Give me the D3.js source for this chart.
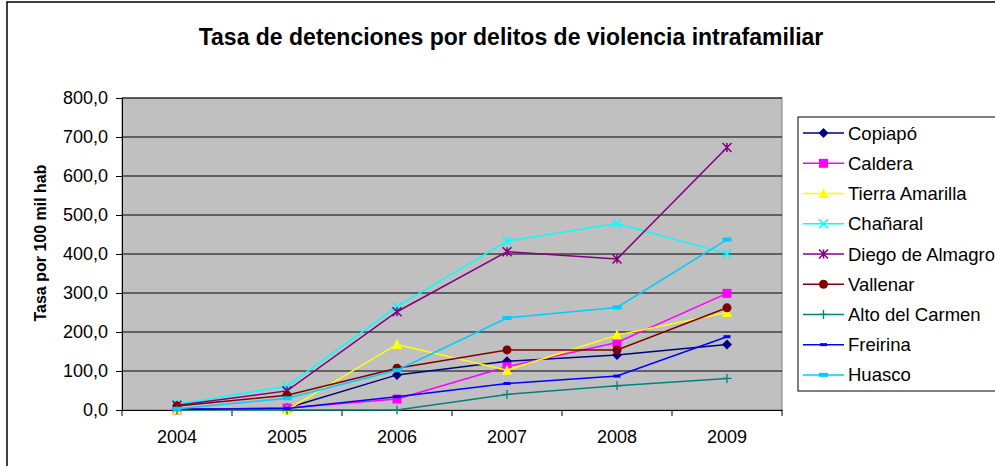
<!DOCTYPE html>
<html><head><meta charset="utf-8">
<script src="https://cdn.jsdelivr.net/npm/d3@7"></script>
<style>body{margin:0;background:#fff;}svg{display:block;font-family:Arial,"Liberation Sans",sans-serif;}</style>
</head><body><svg id="c" width="995" height="466"></svg>
<script>
const years = ["2004","2005","2006","2007","2008","2009"];
const yTicks = [0,100,200,300,400,500,600,700,800];
const names = ["Copiapó","Caldera","Tierra Amarilla","Chañaral","Diego de Almagro","Vallenar","Alto del Carmen","Freirina","Huasco"];
const copiapo  = [2,5,90,125,141,168];
const caldera  = [0,5,28,111,173,299];
const tierra   = [0,0,168,102,192,250];
const chanaral = [15,61,265,433,478,401];
const diego    = [12,49,252,406,387,673];
const vallenar = [10,38,107,154,154,262];
const alto     = [0,0,0,40,62,81];
const freirina = [1,4,34,68,87,188];
const huasco   = [3,30,102,236,263,437];
const colors = ["#000080","#FF00FF","#FFFF00","#00FFFF","#800080","#800000","#008080","#0000FF","#00CCFF"];
const markers = ["diamond","square","triangle","x","star","circle","plus","dash","dash2"];
const series = [copiapo,caldera,tierra,chanaral,diego,vallenar,alto,freirina,huasco];

const svg = d3.select("#c");
const L=122,R=782,T=98,B=410;
const x = d3.scaleBand().domain(years).range([L,R]).padding(0);
const y = d3.scaleLinear().domain([0,800]).range([B,T]);
const cx = d => x(d)+x.bandwidth()/2;

// outer frame
svg.append("rect").attr("x",7).attr("y",2).attr("width",1000).attr("height",480)
  .attr("fill","#fff").attr("stroke","#000").attr("stroke-width",1.5);

// title
svg.append("text").attr("x",511).attr("y",45).attr("text-anchor","middle")
  .attr("font-weight","bold").attr("font-size",23).text("Tasa de detenciones por delitos de violencia intrafamiliar");

// plot area
svg.append("rect").attr("x",L).attr("y",T).attr("width",R-L).attr("height",B-T)
  .attr("fill","#C0C0C0").attr("stroke","#808080").attr("stroke-width",1);

// gridlines
svg.append("g").selectAll("line").data(yTicks.filter(v=>v>0)).join("line")
  .attr("x1",L).attr("x2",R).attr("y1",d=>y(d)).attr("y2",d=>y(d))
  .attr("stroke","#000").attr("stroke-width",1);

// y axis
const ya = svg.append("g").attr("transform",`translate(${L},0)`)
  .call(d3.axisLeft(y).tickValues(yTicks).tickSize(6).tickPadding(8).tickFormat(d=>d3.format(".1f")(d).replace(".",",")));
ya.select(".domain").attr("stroke","#000");
ya.selectAll("text").attr("font-size",18).attr("fill","#000").attr("font-family","Arial,'Liberation Sans',sans-serif");

// x axis
const xa = svg.append("g").attr("transform",`translate(0,${B})`)
  .call(d3.axisBottom(x).tickSize(0).tickPadding(20));
xa.select(".domain").attr("stroke","#000");
xa.selectAll("text").attr("font-size",18).attr("fill","#000").attr("font-family","Arial,'Liberation Sans',sans-serif");
const bounds = years.map(d=>x(d)).concat([R]);
svg.append("g").selectAll("line").data(bounds).join("line")
  .attr("x1",d=>d).attr("x2",d=>d).attr("y1",B).attr("y2",B+6).attr("stroke","#000");

// y label
svg.append("text").attr("transform","translate(46,243) rotate(-90)").attr("text-anchor","middle")
  .attr("font-weight","bold").attr("font-size",16).text("Tasa por 100 mil hab");

function marker(g, type, color, px, py){
  const s=4.5;
  if(type==="diamond"){
    g.append("path").attr("d",`M${px},${py-s-0.5}L${px+s+0.5},${py}L${px},${py+s+0.5}L${px-s-0.5},${py}Z`).attr("fill",color);
  } else if(type==="square"){
    g.append("rect").attr("x",px-s).attr("y",py-s).attr("width",2*s).attr("height",2*s).attr("fill",color);
  } else if(type==="triangle"){
    g.append("path").attr("d",`M${px},${py-s-1}L${px+s+0.5},${py+s}L${px-s-0.5},${py+s}Z`).attr("fill",color);
  } else if(type==="circle"){
    g.append("circle").attr("cx",px).attr("cy",py).attr("r",s).attr("fill",color);
  } else if(type==="x"){
    g.append("path").attr("d",`M${px-s},${py-s}L${px+s},${py+s}M${px-s},${py+s}L${px+s},${py-s}`).attr("stroke",color).attr("stroke-width",1.5);
  } else if(type==="star"){
    g.append("path").attr("d",`M${px-s},${py-s}L${px+s},${py+s}M${px-s},${py+s}L${px+s},${py-s}M${px},${py-s}L${px},${py+s}`).attr("stroke",color).attr("stroke-width",1.5);
  } else if(type==="plus"){
    g.append("path").attr("d",`M${px-s},${py}L${px+s},${py}M${px},${py-s}L${px},${py+s}`).attr("stroke",color).attr("stroke-width",1.3);
  } else if(type==="dash"){
    g.append("rect").attr("x",px-3.5).attr("y",py-1.5).attr("width",7).attr("height",3).attr("fill",color);
  } else if(type==="dash2"){
    g.append("rect").attr("x",px-4.5).attr("y",py-2).attr("width",9).attr("height",4).attr("fill",color);
  }
}

const line = d3.line().x((d,i)=>cx(years[i])).y(d=>y(d));
series.forEach((s,k)=>{
  const g = svg.append("g");
  g.append("path").attr("d",line(s)).attr("fill","none").attr("stroke",colors[k]).attr("stroke-width",1.5);
  s.forEach((v,i)=>marker(g,markers[k],colors[k],cx(years[i]),y(v)));
});

// legend
svg.append("rect").attr("x",798).attr("y",117).attr("width",220).attr("height",274)
  .attr("fill","#fff").attr("stroke","#000").attr("stroke-width",1);
const ly = d3.scaleBand().domain(names).range([118,390]);
names.forEach((n,k)=>{
  const yy = ly(n)+ly.bandwidth()/2;
  const g = svg.append("g");
  g.append("line").attr("x1",803).attr("x2",844).attr("y1",yy).attr("y2",yy).attr("stroke",colors[k]).attr("stroke-width",1.5);
  marker(g,markers[k],colors[k],823.5,yy);
  g.append("text").attr("x",848).attr("y",yy+6.5).attr("font-size",18.5).text(n);
});
</script></body></html>
